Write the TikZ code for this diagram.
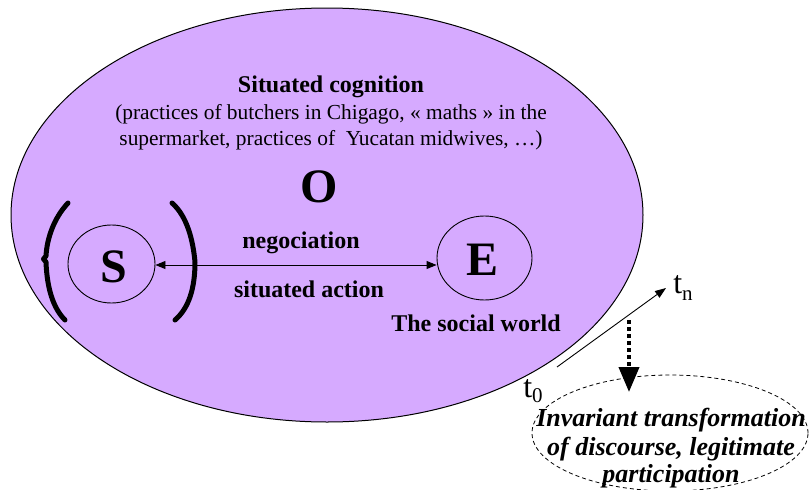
\documentclass[tikz,border=0pt]{standalone}
\usepackage{fontspec}
\setmainfont{Liberation Serif}
\usetikzlibrary{shapes.geometric,arrows.meta}
\definecolor{lav}{RGB}{214,170,255}
\tikzset{
  bigtxt/.style={font=\fontsize{24}{28}\selectfont\bfseries, inner sep=0pt, anchor=base},
  regtxt/.style={font=\fontsize{21.4}{26}\selectfont, inner sep=0pt, anchor=base},
  letter/.style={font=\fontsize{48}{50}\selectfont\bfseries, inner sep=0pt, anchor=base},
  circ/.style={draw, ellipse, inner sep=0pt, line width=0.9pt},
  brack/.style={line width=5pt, line cap=round, line join=round},
  invtxt/.style={font=\fontsize{26}{30}\selectfont\bfseries\itshape, inner sep=0pt, anchor=base},
  ttxt/.style={font=\fontsize{32}{34}\selectfont, inner sep=0pt, anchor=base},
}
\begin{document}
\begin{tikzpicture}[x=1pt,y=-1pt]
\useasboundingbox (0,0) rectangle (809,490);
% big ellipse
\node[draw, ellipse, fill=lav, line width=1pt, minimum width=632, minimum height=414, inner sep=0pt] (cog) at (327,215) {};
% texts
\node[bigtxt] (title) at (331,92) {Situated cognition};
\node[regtxt] (l2) at (331,119) {(practices of butchers in Chigago, « maths » in the};
\node[regtxt] (l3) at (331,145) {supermarket, practices of\ \ Yucatan midwives, …)};
\node[letter] (O) at (319,202) {O};
% S and E
\node[circ, minimum width=87, minimum height=78] (S) at (111.5,264) {};
\node[letter] (Sl) at (113.5,282) {S};
\node[circ, minimum width=95, minimum height=84] (E) at (484.5,258) {};
\node[letter] (El) at (483,275) {E};
\draw[line width=0.9pt, {Triangle[length=10pt,width=8pt]}-{Triangle[length=10pt,width=8pt]}] (S.east |- 0,265) -- (E.west |- 0,265);
\node[bigtxt] (neg) at (301,248) {negociation};
\node[bigtxt] (sa) at (309,297) {situated action};
\node[bigtxt] (sw) at (476,331) {The social world};
% brackets
\draw[brack] (68,203) .. controls (54,218) and (47,238) .. (46,256) -- (43.5,259) -- (46,262) .. controls (47,288) and (53,308) .. (65,320);
\draw[brack] (172,203) .. controls (187,216) and (193,240) .. (195,262) .. controls (195,288) and (189,308) .. (175,320);
% time arrow
\coordinate (t0a) at (557,367);
\coordinate (tna) at (666,288);
\draw[line width=0.9pt, -{Triangle[length=11pt,width=8pt]}] (t0a) -- (tna);
\node[ttxt] (tn) at (683,293) {t\raisebox{-7pt}{\fontsize{21}{22}\selectfont n}};
\node[ttxt] (t0) at (533,397) {t\raisebox{-5pt}{\fontsize{21}{22}\selectfont 0}};
% invariant ellipse
\node[draw, ellipse, dashed, dash pattern=on 4pt off 3pt, line width=0.8pt, minimum width=276, minimum height=116, inner sep=0pt] (inv) at (670,433) {};
\node[invtxt] (i1) at (671,426) {Invariant transformation};
\node[invtxt] (i2) at (671,455) {of discourse, legitimate};
\node[invtxt] (i3) at (671,482) {participation};
% dotted arrow
\coordinate (da) at (629,320);
\coordinate (db) at (629,392);
\draw[line width=4pt, dash pattern=on 4pt off 3pt, -{Triangle[length=25pt,width=20pt]}] (da) -- (db);
\end{tikzpicture}
\end{document}
